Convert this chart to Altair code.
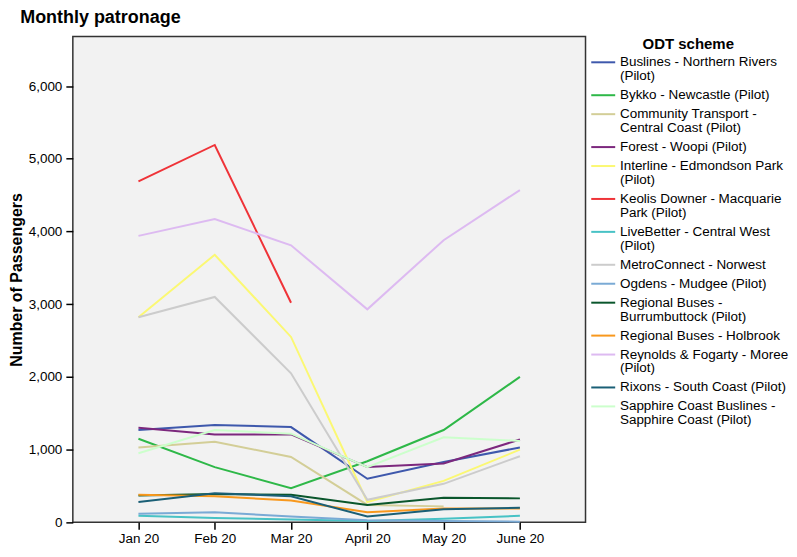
import altair as alt
import pandas as pd

months = ["Jan 20", "Feb 20", "Mar 20", "April 20", "May 20", "June 20"]

schemes = [
    "Buslines - Northern Rivers\n(Pilot)",
    "Bykko - Newcastle (Pilot)",
    "Community Transport -\nCentral Coast (Pilot)",
    "Forest - Woopi (Pilot)",
    "Interline - Edmondson Park\n(Pilot)",
    "Keolis Downer - Macquarie\nPark (Pilot)",
    "LiveBetter - Central West\n(Pilot)",
    "MetroConnect - Norwest",
    "Ogdens - Mudgee (Pilot)",
    "Regional Buses -\nBurrumbuttock (Pilot)",
    "Regional Buses - Holbrook",
    "Reynolds & Fogarty - Moree\n(Pilot)",
    "Rixons - South Coast (Pilot)",
    "Sapphire Coast Buslines -\nSapphire Coast (Pilot)",
]

colors = [
    "#3E58AC", "#2EB848", "#D3CE97", "#7C287D", "#FBF873", "#EF3338", "#48C2C5",
    "#CCCCCC", "#7AAAD5", "#0A562C", "#F8981D", "#DDBAF1", "#1A5F76", "#CCFFCC",
]

buslines = [1270, 1340, 1310, 600, 830, 1030]
bykko = [1150, 760, 470, 840, 1270, 2000]
community = [1030, 1110, 900, 240, 220, None]
forest = [1300, 1210, 1210, 760, 810, 1140]
interline = [2820, 3680, 2550, 280, 570, 1000]
keolis = [4690, 5190, 3020, None, None, None]
livebetter = [90, 60, 40, 20, 50, 90]
metroconnect = [2820, 3100, 2050, 310, 530, 910]
ogdens = [120, 140, 80, 30, 20, 10]
burrumbuttock = [370, 390, 380, 240, 340, 330]
holbrook = [380, 360, 300, 140, 190, 190]
reynolds = [3940, 4170, 3810, 2930, 3880, 4570]
rixons = [280, 400, 360, 80, 180, 200]
sapphire = [950, 1270, 1220, 760, 1170, 1120]

series = [buslines, bykko, community, forest, interline, keolis, livebetter,
          metroconnect, ogdens, burrumbuttock, holbrook, reynolds, rixons, sapphire]

rows = []
for name, vals in zip(schemes, series):
    for m, v in zip(months, vals):
        if v is not None:
            rows.append({"month": m, "scheme": name, "passengers": v})
df = pd.DataFrame(rows)

FONT = "Liberation Sans"

chart = alt.Chart(df).mark_line(strokeWidth=2).encode(
    x=alt.X("month:O", sort=months,
            scale=alt.Scale(type="point", padding=0.86),
            axis=alt.Axis(title=None, labelAngle=0, labelFontSize=13.5, labelColor="#000",
                          tickColor="#000", tickSize=7, tickWidth=1.5, domain=False,
                          labelPadding=2)),
    y=alt.Y("passengers:Q",
            scale=alt.Scale(domain=[0, 6680], nice=False),
            axis=alt.Axis(title="Number of Passengers", values=[0, 1000, 2000, 3000, 4000, 5000, 6000],
                          format=",.0f", grid=False, domain=False, labelFontSize=13.5, labelColor="#000",
                          tickColor="#000", tickSize=7, tickWidth=1.5, labelPadding=4,
                          titleFontSize=16, titleFontWeight="bold",
                          titleColor="#000", titlePadding=4)),
    color=alt.Color("scheme:N", sort=schemes,
                    scale=alt.Scale(domain=schemes, range=colors),
                    legend=alt.Legend(title="ODT scheme", labelExpr="split(datum.label, '\\n')",
                                      symbolType="M-1,0L5,0", symbolSize=64, symbolStrokeWidth=2,
                                      labelFontSize=13.5, labelColor="#000", titleFontSize=15,
                                      titleFontWeight="bold", titleColor="#000", titleAnchor="middle",
                                      labelLimit=240, offset=3, rowPadding=4, labelOffset=18,
                                      titlePadding=4, padding=0)),
).properties(
    width=514,
    height=487,
    padding=0,
    title=alt.TitleParams("Monthly patronage", anchor="start", fontSize=18, fontWeight="bold",
                          font=FONT, color="#000", offset=10, dx=12),
).configure(
    font=FONT, style={"guide-label": {"lineHeight": 14}}
).configure_view(
    fill="#F2F2F2", stroke="#333333", strokeWidth=1.5
)

chart.save("out.html", embed_options={"renderer": "svg", "actions": False})
